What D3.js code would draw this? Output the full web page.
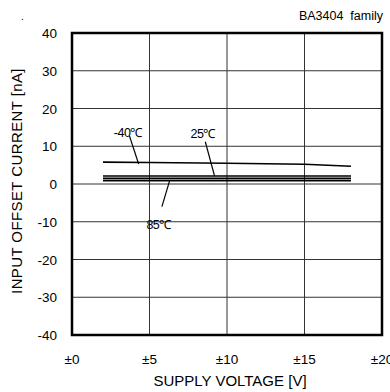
<!DOCTYPE html>
<html>
<head>
<meta charset="utf-8">
<script src="https://cdn.jsdelivr.net/npm/d3@7/dist/d3.min.js"></script>
<style>
  body { margin: 0; background: #fff; }
  svg { font-family: "Liberation Sans", Arial, sans-serif; }
</style>
</head>
<body>
<div id="chart"></div>
<script>
//Datos
const voltages = [2, 5, 10, 15, 18];
const curveM40 = [5.8, 5.7, 5.5, 5.25, 4.7];
const curve25 = [2.1, 2.1, 2.1, 2.1, 2.1];
const curveMid = [1.5, 1.5, 1.5, 1.5, 1.5];
const curve85 = [0.9, 0.9, 0.9, 0.9, 0.9];
const xTicks = [0, 5, 10, 15, 20];
const yTicks = [-40, -30, -20, -10, 0, 10, 20, 30, 40];

const W = 390, H = 392;
const margin = {top: 33, right: 8, bottom: 57, left: 72};
const width = W - margin.left - margin.right,
      height = H - margin.top - margin.bottom;

const svg = d3.select('#chart').append('svg')
    .attr('width', W).attr('height', H);

const g = svg.append('g')
    .attr('transform', 'translate(' + margin.left + ',' + margin.top + ')');

const x = d3.scaleLinear().domain([0, 20]).range([0, width]);
const y = d3.scaleLinear().domain([-40, 40]).range([height, 0]);

//Rejilla
g.append('g').selectAll('line').data(xTicks).enter().append('line')
    .attr('x1', d => x(d)).attr('x2', d => x(d))
    .attr('y1', 0).attr('y2', height)
    .attr('stroke', '#333').attr('stroke-width', 1);

g.append('g').selectAll('line').data(yTicks).enter().append('line')
    .attr('y1', d => y(d)).attr('y2', d => y(d))
    .attr('x1', 0).attr('x2', width)
    .attr('stroke', '#333').attr('stroke-width', 1);

//Marco
g.append('rect')
    .attr('width', width).attr('height', height)
    .attr('fill', 'none').attr('stroke', '#000').attr('stroke-width', 2.5);

//Etiquetas de ejes
g.append('g').selectAll('text').data(yTicks).enter().append('text')
    .attr('x', -15).attr('y', d => y(d) + 5)
    .attr('text-anchor', 'end').attr('font-size', 13.5)
    .text(d => d);

g.append('g').selectAll('text').data(xTicks).enter().append('text')
    .attr('x', d => x(d)).attr('y', height + 29)
    .attr('text-anchor', 'middle').attr('font-size', 13.5)
    .text(d => '±' + d);

svg.append('text')
    .attr('x', 230).attr('y', H - 6)
    .attr('text-anchor', 'middle').attr('font-size', 15)
    .text('SUPPLY VOLTAGE [V]');

svg.append('text')
    .attr('transform', 'translate(22,' + 181 + ') rotate(-90)')
    .attr('text-anchor', 'middle').attr('font-size', 15)
    .attr('letter-spacing', 0.4)
    .text('INPUT OFFSET CURRENT [nA]');

svg.append('text')
    .attr('x', 383).attr('y', 20)
    .attr('text-anchor', 'end').attr('font-size', 12.5)
    .attr('xml:space', 'preserve')
    .text('BA3404  family');

svg.append('text')
    .attr('x', 21).attr('y', 20)
    .attr('font-size', 10)
    .text('.');

//Curvas
const line = d3.line()
    .x((d, i) => x(voltages[i]))
    .y(d => y(d));

[curveM40, curve25, curveMid, curve85].forEach(function(c) {
    g.append('path')
        .datum(c)
        .attr('d', line)
        .attr('fill', 'none')
        .attr('stroke', '#000')
        .attr('stroke-width', 1.6);
});

//Rótulos de temperatura
const labels = [
    {t: '-40℃', tx: 2.7, ty: 12.4, ax: 3.7, ay: 12.8, bx: 4.3, by: 5.3},
    {t: '25℃', tx: 7.65, ty: 12.2, ax: 8.6, ay: 11.2, bx: 9.2, by: 2.1},
    {t: '85℃', tx: 4.8, ty: -11.9, ax: 5.8, ay: -6.0, bx: 6.3, by: 0.9}
];

labels.forEach(function(l) {
    g.append('text')
        .attr('x', x(l.tx)).attr('y', y(l.ty))
        .attr('font-size', 12.5).attr('letter-spacing', -0.5)
        .text(l.t);
    g.append('line')
        .attr('x1', x(l.ax)).attr('y1', y(l.ay))
        .attr('x2', x(l.bx)).attr('y2', y(l.by))
        .attr('stroke', '#000').attr('stroke-width', 1.2);
});
</script>
</body>
</html>
